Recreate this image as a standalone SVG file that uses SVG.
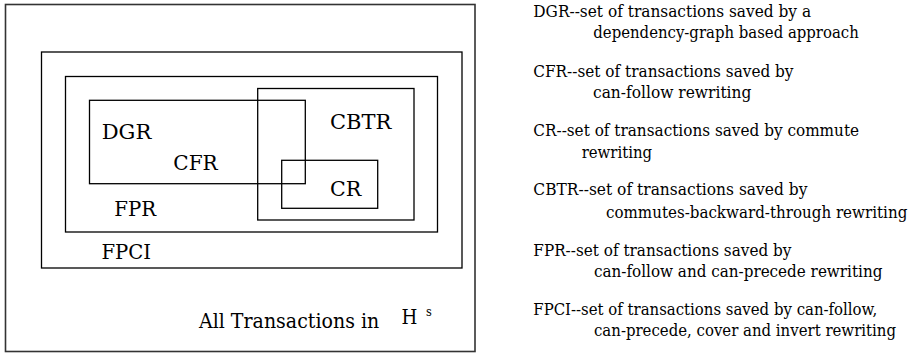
<svg xmlns="http://www.w3.org/2000/svg" width="908" height="353" viewBox="0 0 908 353">
<style>
  .box { fill: none; stroke: #000; stroke-width: 1.3; }
  .outer { fill: none; stroke: #333; stroke-width: 1.6; }
  text { font-family: 'DejaVu Serif', 'Liberation Serif', 'Times New Roman', serif; fill: #000; }
  .lbl { font-size: 21px; }
  .leg { font-size: 17px; }
</style>
<rect width="908" height="353" fill="#fff"/>
<g id="all">
  <rect class="outer" x="5.5" y="4.5" width="469.5" height="347"/>
  <text class="lbl" x="199" y="328.3" textLength="180.2" lengthAdjust="spacingAndGlyphs">All Transactions in</text>
  <text x="401.5" y="324" font-size="21" textLength="15.9" lengthAdjust="spacingAndGlyphs">H</text>
  <text x="426" y="316" font-size="13" textLength="5.8" lengthAdjust="spacingAndGlyphs">s</text>
</g>
<g id="fpci">
  <rect class="box" x="41.5" y="52" width="420.5" height="216"/>
  <text class="lbl" x="101.5" y="258.7" textLength="49.6" lengthAdjust="spacingAndGlyphs">FPCI</text>
</g>
<g id="fpr">
  <rect class="box" x="65.5" y="76.5" width="372" height="155.5"/>
  <text class="lbl" x="114.3" y="216" textLength="41.8" lengthAdjust="spacingAndGlyphs">FPR</text>
</g>
<g id="cbtr">
  <rect class="box" x="257.7" y="88.5" width="156.3" height="131.5"/>
  <text class="lbl" x="330" y="129" textLength="61.4" lengthAdjust="spacingAndGlyphs">CBTR</text>
</g>
<g id="dgr">
  <rect class="box" x="89.5" y="100.3" width="215.8" height="83.4"/>
  <text class="lbl" x="101.7" y="139" textLength="49.6" lengthAdjust="spacingAndGlyphs">DGR</text>
  <text class="lbl" x="173.3" y="170" textLength="44.4" lengthAdjust="spacingAndGlyphs">CFR</text>
</g>
<g id="cr">
  <rect class="box" x="281.7" y="160.3" width="96" height="48"/>
  <text class="lbl" x="330" y="196" textLength="31.3" lengthAdjust="spacingAndGlyphs">CR</text>
</g>
<g id="legend">
  <text class="leg" x="533.3" y="16.5" textLength="277.8" lengthAdjust="spacingAndGlyphs">DGR--set of transactions saved by a</text>
  <text class="leg" x="593.3" y="37.5" textLength="265.5" lengthAdjust="spacingAndGlyphs">dependency-graph based approach</text>
  <text class="leg" x="533.3" y="77" textLength="260.2" lengthAdjust="spacingAndGlyphs">CFR--set of transactions saved by</text>
  <text class="leg" x="593" y="98" textLength="158.4" lengthAdjust="spacingAndGlyphs">can-follow rewriting</text>
  <text class="leg" x="533.3" y="136" textLength="325.8" lengthAdjust="spacingAndGlyphs">CR--set of transactions saved by commute</text>
  <text class="leg" x="581.7" y="158" textLength="70.4" lengthAdjust="spacingAndGlyphs">rewriting</text>
  <text class="leg" x="533.3" y="195" textLength="274.1" lengthAdjust="spacingAndGlyphs">CBTR--set of transactions saved by</text>
  <text class="leg" x="606" y="217.5" textLength="301.3" lengthAdjust="spacingAndGlyphs">commutes-backward-through rewriting</text>
  <text class="leg" x="533.3" y="256" textLength="258.1" lengthAdjust="spacingAndGlyphs">FPR--set of transactions saved by</text>
  <text class="leg" x="594" y="277" textLength="288.4" lengthAdjust="spacingAndGlyphs">can-follow and can-precede rewriting</text>
  <text class="leg" x="533.3" y="315" textLength="344" lengthAdjust="spacingAndGlyphs">FPCI--set of transactions saved by can-follow,</text>
  <text class="leg" x="594" y="336" textLength="302" lengthAdjust="spacingAndGlyphs">can-precede, cover and invert rewriting</text>
</g>
</svg>
